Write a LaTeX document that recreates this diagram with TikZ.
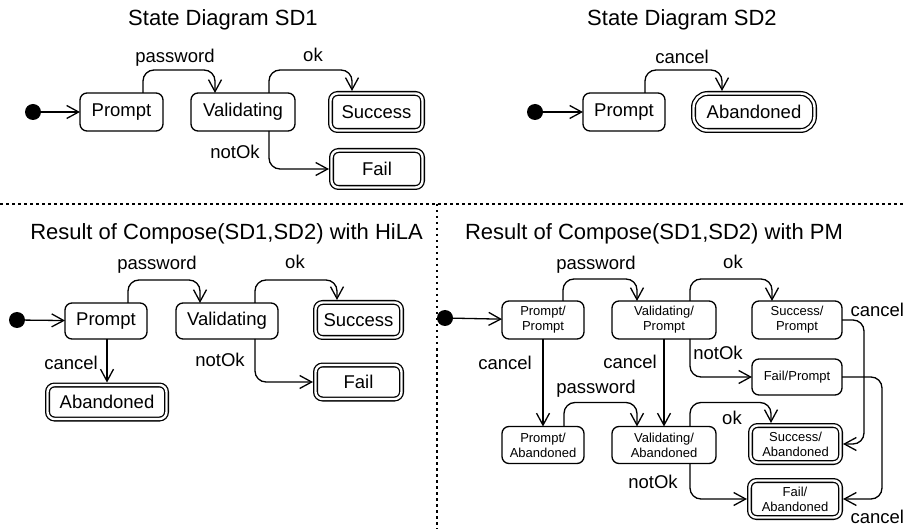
\documentclass[tikz,border=0pt]{standalone}
\usepackage{fontspec}
\setmainfont{Liberation Sans}
\usetikzlibrary{arrows.meta}
\begin{document}
\begin{tikzpicture}[x=1pt,y=-1pt,
  every node/.style={inner sep=0pt,outer sep=0pt},
  stbox/.style={draw, line width=1.3pt, rounded corners=7pt, minimum height=37pt,
    font=\fontsize{18.5}{20}\selectfont, align=center},
  small/.style={font=\fontsize{13}{15}\selectfont},
  fin/.style={stbox, double, double distance=2.4pt, outer sep=2.5pt},
  init/.style={circle, fill=black, minimum size=16pt},
  lbl/.style={font=\fontsize{18.5}{20}\selectfont},
  ttl/.style={font=\fontsize{22}{24}\selectfont},
  tr/.style={line width=1.3pt, -{Straight Barb[length=12pt,width=13pt]}, rounded corners=11pt},
  sep/.style={line width=1.3pt, dash pattern=on 2.5pt off 3.5pt}]
\useasboundingbox (0,0) rectangle (905,529);

% separators
\draw[sep] (0,204) -- (905,204);
\draw[sep] (437,204) -- (437,529);

% titles
\node[ttl] (T1) at (223,20) {State Diagram SD1};
\node[ttl] (T2) at (682,20) {State Diagram SD2};
\node[ttl] (T3) at (226.5,234) {Result of Compose(SD1,SD2) with HiLA};
\node[ttl] (T4) at (654,234) {Result of Compose(SD1,SD2) with PM};

% ---------- SD1 ----------
\node[init] (I1) at (33,112) {};
\node[stbox, minimum width=83pt, minimum height=38pt] (P1) at (121.5,112) {Prompt};
\node[stbox, minimum width=104pt, minimum height=38pt] (V1) at (243,112) {Validating};
\node[fin, minimum width=92pt] (S1) at (376.5,112) {Success};
\node[fin, minimum width=91pt] (F1) at (377,169) {Fail};
\draw[tr] (I1) -- (P1);
\draw[tr] ([xshift=21.5pt]P1.north) -- ++(0,-23) -| ([xshift=-28pt]V1.north);
\draw[tr] ([xshift=26pt]V1.north) -- ++(0,-23) -| ([xshift=-24.5pt]S1.north);
\draw[tr] ([xshift=26pt]V1.south) |- (F1.west);
\node[lbl] (L1a) at (175,58) {password};
\node[lbl] (L1b) at (313,55) {ok};
\node[lbl] (L1c) at (235,152) {notOk};

% ---------- SD2 ----------
\node[init] (I2) at (535,112) {};
\node[stbox, minimum width=82pt, minimum height=38pt] (P2) at (624,112) {Prompt};
\node[fin, minimum width=121pt, rounded corners=14pt] (A2) at (754,112) {Abandoned};
\draw[tr] (I2) -- (P2);
\draw[tr] ([xshift=21pt]P2.north) -- ++(0,-23) -| ([xshift=-32pt]A2.north);
\node[lbl] (L2a) at (682,57) {cancel};

% ---------- HiLA ----------
\node[init] (I3) at (17,320) {};
\node[stbox, minimum width=82pt, minimum height=36pt] (P3) at (106,321) {Prompt};
\node[stbox, minimum width=102pt, minimum height=36pt] (V3) at (227,321) {Validating};
\node[fin, minimum width=86pt, minimum height=35pt] (S3) at (358.5,320) {Success};
\node[fin, minimum width=86pt, minimum height=34pt] (F3) at (358.5,382) {Fail};
\node[fin, minimum width=119pt, minimum height=34pt] (A3) at (107,402) {Abandoned};
\draw[tr] (I3) -- (P3);
\draw[tr] ([xshift=22pt]P3.north) -- ++(0,-23) -| ([xshift=-27pt]V3.north);
\draw[tr] ([xshift=28pt]V3.north) -- ++(0,-23) -| ([xshift=-21.5pt]S3.north);
\draw[tr] ([xshift=28pt]V3.south) |- (F3.west);
\draw[tr] ([xshift=1pt]P3.south) -- ([xshift=1pt]P3.south |- A3.north);
\node[lbl] (L3a) at (157,265) {password};
\node[lbl] (L3b) at (295,262) {ok};
\node[lbl] (L3c) at (220,360) {notOk};
\node[lbl] (L3d) at (71,363) {cancel};

% ---------- PM ----------
\node[init] (I4) at (445,318) {};
\node[stbox, small, minimum width=82pt, minimum height=38pt] (PP) at (543,320) {Prompt/\\Prompt};
\node[stbox, small, minimum width=104pt, minimum height=38pt] (VP) at (664,320) {Validating/\\Prompt};
\node[stbox, small, minimum width=90pt, minimum height=38pt] (SP) at (797,320) {Success/\\Prompt};
\node[stbox, small, minimum width=90pt, minimum height=36pt] (FP) at (797,377) {Fail/Prompt};
\node[stbox, small, minimum width=82pt, minimum height=37pt] (PA) at (543,445) {Prompt/\\Abandoned};
\node[stbox, small, minimum width=104pt, minimum height=37pt] (VA) at (664,445) {Validating/\\Abandoned};
\node[fin, small, minimum width=90pt] (SA) at (795.5,444) {Success/\\Abandoned};
\node[fin, small, minimum width=91pt] (FA) at (795,499) {Fail/\\Abandoned};
\draw[tr] (I4) -- (PP);
\draw[tr] ([xshift=20pt]PP.north) -- ++(0,-22) -| ([xshift=-27pt]VP.north);
\draw[tr] ([xshift=26pt]VP.north) -- ++(0,-22) -| ([xshift=-25pt]SP.north);
\draw[tr] (SP.east) -| ([xshift=21pt]SA.east) -- (SA.east);
\draw[tr] (FP.east) -| ([xshift=39pt]FA.east) -- (FA.east);
\draw[tr] (PP.south) -- (PA.north);
\draw[tr] (VP.south) -- (VA.north);
\draw[tr] ([xshift=26pt]VP.south) |- (FP.west);
\draw[tr] ([xshift=21pt]PA.north) -- ++(0,-24) -| ([xshift=-27pt]VA.north);
\draw[tr] ([xshift=26pt]VA.north) -- ++(0,-24) -| ([xshift=-24.5pt]SA.north);
\draw[tr] ([xshift=26pt]VA.south) |- (FA.west);
\node[lbl] (L4a) at (596,265) {password};
\node[lbl] (L4b) at (733,262) {ok};
\node[lbl, anchor=east] (L4c) at (904,310) {cancel};
\node[lbl] (L4d) at (505,363) {cancel};
\node[lbl] (L4e) at (630,362) {cancel};
\node[lbl] (L4f) at (718,353) {notOk};
\node[lbl] (L4g) at (596,389) {password};
\node[lbl] (L4h) at (732,418) {ok};
\node[lbl] (L4i) at (653,482) {notOk};
\node[lbl, anchor=east] (L4j) at (904,517) {cancel};
\end{tikzpicture}
\end{document}
